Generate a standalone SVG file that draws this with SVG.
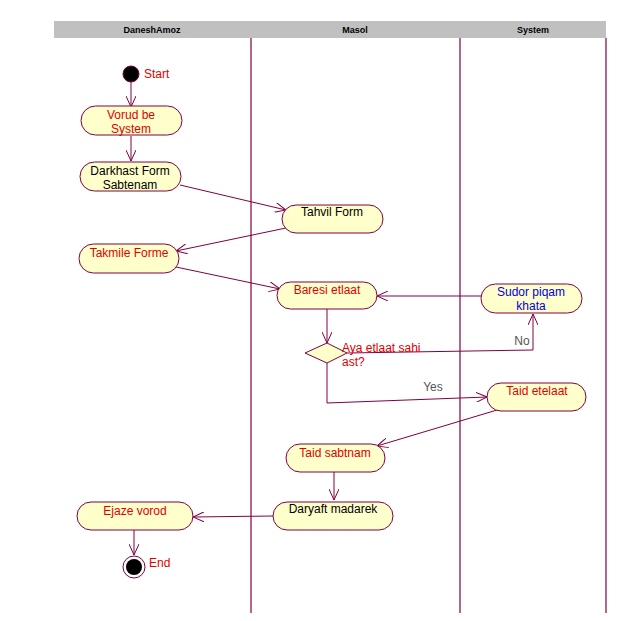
<svg xmlns="http://www.w3.org/2000/svg" width="633" height="621" viewBox="0 0 633 621">
  <style>
    .hdr { fill: #c0c0c0; }
    .hdrtxt { font-family: "Liberation Sans", Arial, sans-serif; font-size: 9px; font-weight: bold; fill: #000; text-anchor: middle; }
    .lane { stroke: #800040; stroke-width: 1.2; }
    .act { fill: #ffffcc; stroke: #800040; stroke-width: 1; }
    .t { font-family: "Liberation Sans", Arial, sans-serif; font-size: 12px; text-anchor: middle; }
    .red { fill: #e00000; }
    .blk { fill: #000; }
    .blu { fill: #0000e0; }
    .gry { fill: #555; }
    .edge { fill: none; stroke: #800040; stroke-width: 1; marker-end: url(#open); }
  </style>
  <defs>
    <marker id="open" viewBox="0 0 12 10" refX="11" refY="5" markerWidth="12" markerHeight="10" markerUnits="userSpaceOnUse" orient="auto">
      <path d="M0,0 L11,5 L0,10" fill="none" stroke="#800040" stroke-width="1"/>
    </marker>
  </defs>
  <rect width="633" height="621" fill="#fff"/>

  <!-- swimlane headers -->
  <g id="lanes">
    <rect class="hdr" x="54" y="21" width="552" height="17"/>
    <text class="hdrtxt" x="152" y="33">DaneshAmoz</text>
    <text class="hdrtxt" x="355" y="33">Masol</text>
    <text class="hdrtxt" x="533" y="33">System</text>
    <line class="lane" x1="251" y1="38" x2="251" y2="613"/>
    <line class="lane" x1="460" y1="38" x2="460" y2="613"/>
    <line class="lane" x1="606" y1="38" x2="606" y2="613"/>
  </g>

  <!-- connectors -->
  <g id="connectors">
    <line class="edge" x1="131" y1="82" x2="131" y2="107"/>
    <line class="edge" x1="131" y1="136" x2="131" y2="161"/>
    <line class="edge" x1="180" y1="185" x2="286" y2="210"/>
    <line class="edge" x1="286" y1="228" x2="176" y2="251"/>
    <line class="edge" x1="176" y1="267" x2="280" y2="289"/>
    <line class="edge" x1="481" y1="296" x2="377" y2="296"/>
    <line class="edge" x1="327" y1="309" x2="327" y2="343"/>
    <polyline class="edge" points="347,353 533,350 533,314"/>
    <polyline class="edge" points="327,363 327,403 487,397"/>
    <line class="edge" x1="497" y1="410" x2="377" y2="446"/>
    <line class="edge" x1="334" y1="472" x2="334" y2="500"/>
    <line class="edge" x1="273" y1="516" x2="193" y2="517"/>
    <line class="edge" x1="134" y1="530" x2="134" y2="555"/>
    <text class="t gry" x="522" y="345">No</text>
    <text class="t gry" x="433" y="391">Yes</text>
  </g>

  <g id="start">
    <circle cx="131" cy="74" r="8" fill="#000" stroke="#800040" stroke-width="1"/>
    <text class="t red" x="144" y="78" text-anchor="start" style="text-anchor:start">Start</text>
  </g>

  <g id="vorud">
    <rect class="act" x="81" y="106" width="101" height="29" rx="14.5"/>
    <text class="t red" x="131" y="119">Vorud be</text>
    <text class="t red" x="131" y="133">System</text>
  </g>

  <g id="darkhast">
    <rect class="act" x="80" y="162" width="101" height="29" rx="14.5"/>
    <text class="t blk" x="130" y="175">Darkhast Form</text>
    <text class="t blk" x="130" y="189">Sabtenam</text>
  </g>

  <g id="tahvil">
    <rect class="act" x="282" y="205" width="101" height="28" rx="14"/>
    <text class="t blk" x="332" y="216">Tahvil Form</text>
  </g>

  <g id="takmile">
    <rect class="act" x="79" y="244" width="100" height="29" rx="14.5"/>
    <text class="t red" x="129" y="257">Takmile Forme</text>
  </g>

  <g id="baresi">
    <rect class="act" x="277" y="282" width="100" height="27" rx="13.5"/>
    <text class="t red" x="327" y="294">Baresi etlaat</text>
  </g>

  <g id="sudor">
    <rect class="act" x="481" y="284" width="101" height="29" rx="14.5"/>
    <text class="t blu" x="531" y="296">Sudor piqam</text>
    <text class="t blu" x="531" y="310">khata</text>
  </g>

  <g id="decision">
    <polygon class="act" points="327,343 347,353 327,363 305,353"/>
    <text class="t red" x="342" y="352" style="text-anchor:start">Aya etlaat sahi</text>
    <text class="t red" x="342" y="366" style="text-anchor:start">ast?</text>
  </g>

  <g id="taidEtelaat">
    <rect class="act" x="487" y="383" width="99" height="28" rx="14"/>
    <text class="t red" x="537" y="395">Taid etelaat</text>
  </g>

  <g id="taidSabtnam">
    <rect class="act" x="286" y="444" width="99" height="28" rx="14"/>
    <text class="t red" x="335" y="457">Taid sabtnam</text>
  </g>

  <g id="daryaft">
    <rect class="act" x="273" y="502" width="120" height="28" rx="14"/>
    <text class="t blk" x="333" y="513">Daryaft madarek</text>
  </g>

  <g id="ejaze">
    <rect class="act" x="77" y="502" width="116" height="28" rx="14"/>
    <text class="t red" x="135" y="515">Ejaze vorod</text>
  </g>

  <g id="end">
    <circle cx="134" cy="567" r="11" fill="#fff" stroke="#800040" stroke-width="1"/>
    <circle cx="134" cy="567" r="8" fill="#000"/>
    <text class="t red" x="149" y="567" style="text-anchor:start">End</text>
  </g>
</svg>
